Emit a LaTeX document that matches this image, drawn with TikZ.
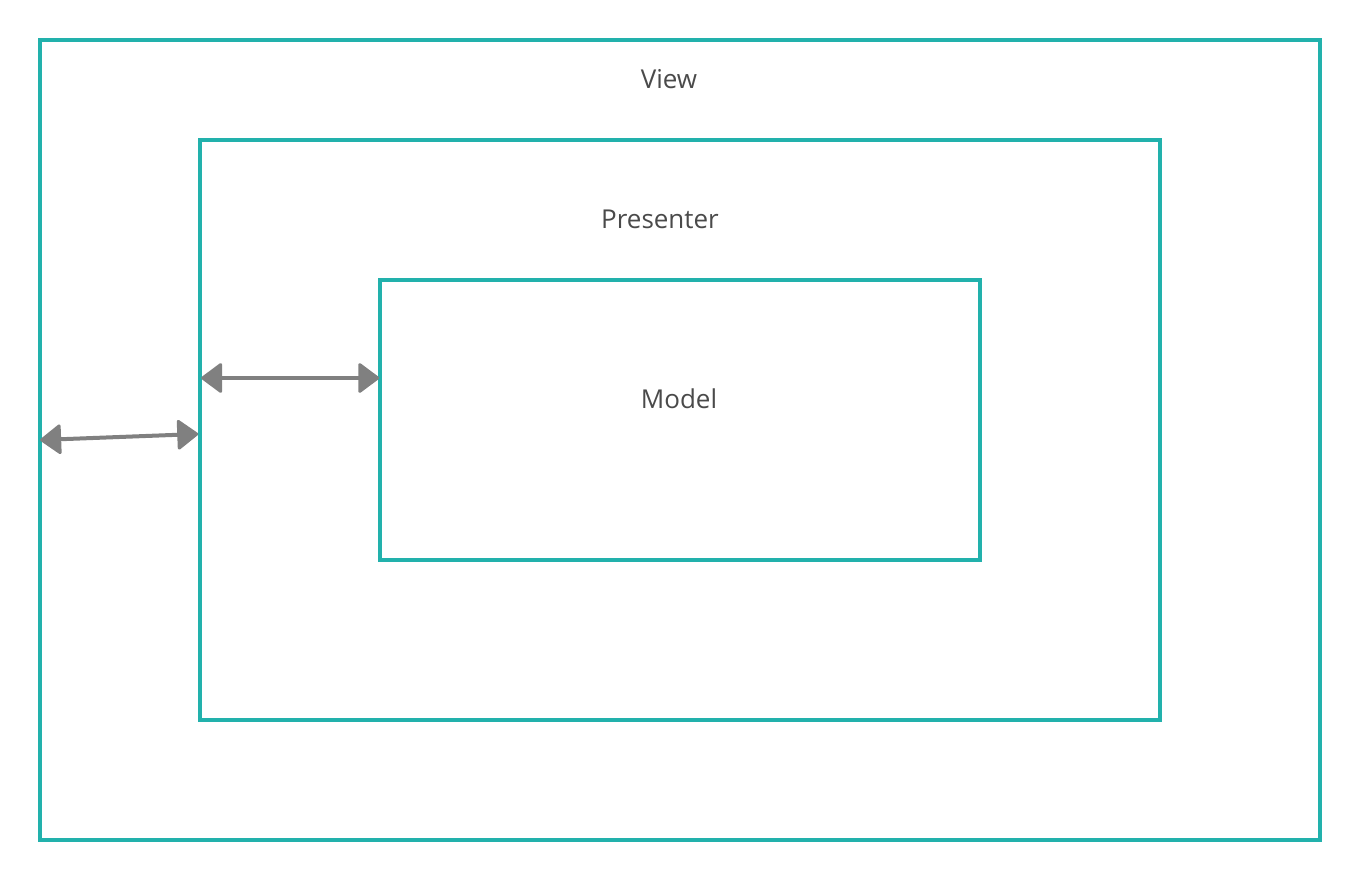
\documentclass[tikz,border=0pt]{standalone}
\usepackage{fontspec}
\setmainfont{Open Sans}
\usetikzlibrary{arrows.meta,calc}
\definecolor{frameteal}{HTML}{22B1AC}
\definecolor{linkgray}{HTML}{808080}
\definecolor{labelgray}{HTML}{4A4A4A}
\tikzset{
  layerbox/.style={draw=frameteal, line width=3.6pt, inner sep=0pt},
  layertext/.style={text=labelgray, font=\fontsize{26}{30}\selectfont, inner sep=0pt},
  link/.style={draw=linkgray, line width=4pt,
    {Triangle[length=22pt,width=32pt,round,line width=3pt]}-{Triangle[length=22pt,width=32pt,round,line width=3pt]}}
}
\begin{document}
\begin{tikzpicture}[x=1pt,y=-1pt]
			%%%%% START %%%%%
			\useasboundingbox (0,0) rectangle (1360,881);
			
			\node[layerbox, minimum width=1280pt, minimum height=800pt] (view) at (680,440) {};
			\node[layerbox, minimum width=960pt, minimum height=580pt] (presenter) at (680,430) {};
			\node[layerbox, minimum width=600pt, minimum height=280pt] (model) at (680,420) {};
			
			\node[layertext] (viewtext) at (669,79) {View};
			\node[layertext] (presentertext) at (660,219) {Presenter};
			\node[layertext] (modeltext) at (679,399) {Model};
			
			\coordinate (viewport) at ($(view.west)+(2,0)$);
			\coordinate (presport) at ($(presenter.west)+(0,4)$);
			\coordinate (presportb) at ($(presenter.west)+(3,-52)$);
			\coordinate (modelport) at ($(model.west |- presportb)+(1,0)$);
			
			\draw[link] (viewport) -- (presport);
			\draw[link] (presportb) -- (modelport);
			
			%%%%% END %%%%%
\end{tikzpicture}
\end{document}
